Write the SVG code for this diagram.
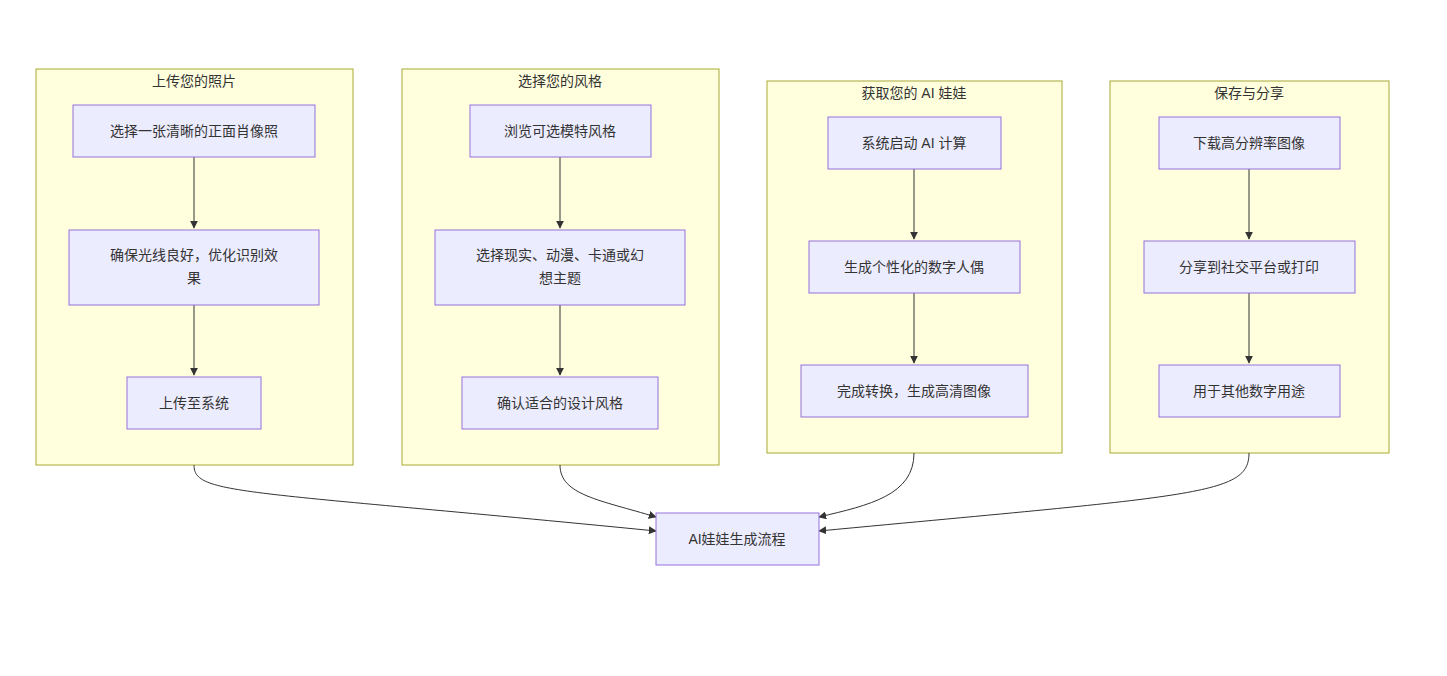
<svg xmlns="http://www.w3.org/2000/svg" width="1447" height="676" viewBox="0 0 1447 676">
<style>
.c{fill:#ffffde;stroke:#aaaa33;stroke-width:1}
.n{fill:#ECECFF;stroke:#9370DB;stroke-width:1}
text{font-family:"Liberation Sans","Noto Sans CJK SC",sans-serif;font-size:14px;fill:#333;text-anchor:middle}
.e{fill:none;stroke:#333;stroke-width:1}
</style>
<defs><marker id="a" viewBox="0 0 10 10" refX="9" refY="5" markerWidth="8" markerHeight="8" orient="auto"><path d="M0,0L10,5L0,10z" fill="#333"/></marker></defs>
<rect width="1447" height="676" fill="#fff"/>
<g id="c1"><rect class="c" x="36" y="69" width="317" height="396"/><text x="194" y="86">上传您的照片</text></g>
<g id="c2"><rect class="c" x="402" y="69" width="317" height="396"/><text x="560" y="86">选择您的风格</text></g>
<g id="c3"><rect class="c" x="767" y="81" width="295" height="372"/><text x="914" y="98">获取您的 AI 娃娃</text></g>
<g id="c4"><rect class="c" x="1110" y="81" width="279" height="372"/><text x="1249" y="98">保存与分享</text></g>
<g id="edges">
<path class="e" marker-end="url(#a)" d="M194,157V228"/>
<path class="e" marker-end="url(#a)" d="M194,305V375"/>
<path class="e" marker-end="url(#a)" d="M560,157V228"/>
<path class="e" marker-end="url(#a)" d="M560,305V375"/>
<path class="e" marker-end="url(#a)" d="M914,169V239"/>
<path class="e" marker-end="url(#a)" d="M914,293V363"/>
<path class="e" marker-end="url(#a)" d="M1249,169V239"/>
<path class="e" marker-end="url(#a)" d="M1249,293V363"/>
<path class="e" marker-end="url(#a)" d="M194,465C194,495 240,490 656,531"/>
<path class="e" marker-end="url(#a)" d="M560,465C560,495 600,500 656,517"/>
<path class="e" marker-end="url(#a)" d="M914,453C914,495 870,505 819,517"/>
<path class="e" marker-end="url(#a)" d="M1249,453C1249,495 1200,495 819,531"/>
</g>
<g id="n1"><rect class="n" x="73" y="105" width="242" height="52"/><text x="194" y="136">选择一张清晰的正面肖像照</text></g>
<g id="n2"><rect class="n" x="69" y="230" width="250" height="75"/><text x="194" y="260">确保光线良好，优化识别效</text><text x="194" y="283">果</text></g>
<g id="n3"><rect class="n" x="127" y="377" width="134" height="52"/><text x="194" y="408">上传至系统</text></g>
<g id="n4"><rect class="n" x="470" y="105" width="181" height="52"/><text x="560" y="136">浏览可选模特风格</text></g>
<g id="n5"><rect class="n" x="435" y="230" width="250" height="75"/><text x="560" y="260">选择现实、动漫、卡通或幻</text><text x="560" y="283">想主题</text></g>
<g id="n6"><rect class="n" x="462" y="377" width="196" height="52"/><text x="560" y="408">确认适合的设计风格</text></g>
<g id="n7"><rect class="n" x="828" y="117" width="173" height="52"/><text x="914" y="148">系统启动 AI 计算</text></g>
<g id="n8"><rect class="n" x="809" y="241" width="211" height="52"/><text x="914" y="272">生成个性化的数字人偶</text></g>
<g id="n9"><rect class="n" x="801" y="365" width="227" height="52"/><text x="914" y="396">完成转换，生成高清图像</text></g>
<g id="n10"><rect class="n" x="1159" y="117" width="181" height="52"/><text x="1249" y="148">下载高分辨率图像</text></g>
<g id="n11"><rect class="n" x="1144" y="241" width="211" height="52"/><text x="1249" y="272">分享到社交平台或打印</text></g>
<g id="n12"><rect class="n" x="1159" y="365" width="181" height="52"/><text x="1249" y="396">用于其他数字用途</text></g>
<g id="n13"><rect class="n" x="656" y="513" width="163" height="52"/><text x="737" y="544">AI娃娃生成流程</text></g>
</svg>
